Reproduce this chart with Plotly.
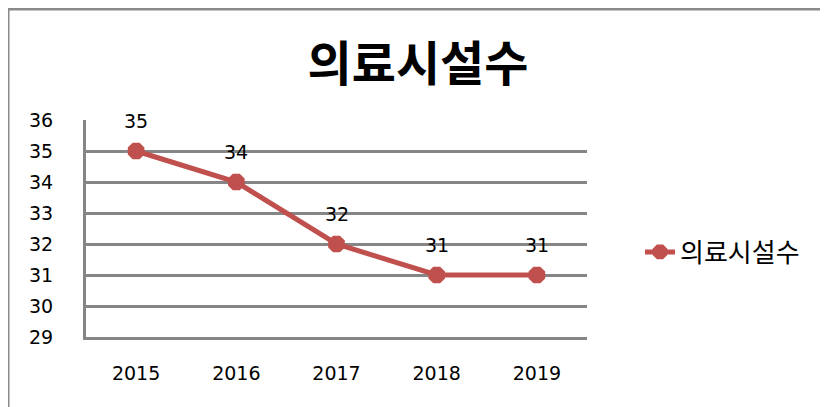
import plotly.graph_objects as go

years = ["2015", "2016", "2017", "2018", "2019"]
values = [35, 34, 32, 31, 31]
series_name = "의료시설수"
y_ticks = [29, 30, 31, 32, 33, 34, 35, 36]

RED = "#C0504D"
GRID = "#868686"
FONT = "Noto Sans CJK KR"
NUMFONT = "DejaVu Sans"

OFF = 8  # page body margin
L, R, T, B = 86, 241, 120, 70  # target plot-area position in screenshot
W, H = 828, 407
pw, ph = W - L - R, H - T - B

fig = go.Figure()
fig.add_trace(go.Scatter(
    x=years, y=values, name=series_name, mode="lines+markers",
    line=dict(color=RED, width=5),
    marker=dict(symbol="octagon", size=18, color=RED),
))

for i, yv in enumerate(values):
    fig.add_annotation(x=i, y=yv, text=str(yv), showarrow=False,
                       yshift=30, font=dict(size=19, color="#000", family=NUMFONT))

# outer chart border (top and left only visible)
fig.add_shape(type="line", xref="paper", yref="paper",
              x0=(8 - L) / pw, x1=(W + 20 - L) / pw,
              y0=(H - B - 9) / ph, y1=(H - B - 9) / ph,
              line=dict(color="#8a8a8a", width=3))
fig.add_shape(type="line", xref="paper", yref="paper",
              x0=(8 - L) / pw, x1=(8 - L) / pw,
              y0=(H - B - 9) / ph, y1=(H - B - H - 20) / ph,
              line=dict(color="#8a8a8a", width=3))

fig.update_layout(
    width=W, height=H,
    margin=dict(l=L - OFF, r=R + OFF, t=T - OFF, b=B + OFF),
    paper_bgcolor="white", plot_bgcolor="white",
    font=dict(family=FONT, size=18, color="#000"),
    title=dict(text="<b>" + series_name + "</b>", x=(418 - OFF) / W, xanchor="center",
               y=1 - (64 - OFF) / H, yanchor="middle",
               font=dict(size=48, family=FONT, color="#000")),
    showlegend=True,
    legend=dict(x=(640 - L) / pw, y=(H - B - 252) / ph, xanchor="left", yanchor="middle",
                font=dict(size=26, family=FONT), bgcolor="rgba(0,0,0,0)"),
    xaxis=dict(type="category", range=[-0.5, 4.5], showgrid=False,
               showline=True, linecolor=GRID, linewidth=3,
               ticks="", tickfont=dict(size=19, family=NUMFONT)),
    yaxis=dict(range=[29, 36], tickvals=y_ticks, showgrid=True, gridcolor=GRID,
               gridwidth=3, showline=True, linecolor=GRID, linewidth=3,
               zeroline=False, tickfont=dict(size=19, family=NUMFONT)),
)
fig.update_xaxes(ticklabelstandoff=17)
fig.update_yaxes(ticklabelstandoff=26)

fig.write_html("out.html")
